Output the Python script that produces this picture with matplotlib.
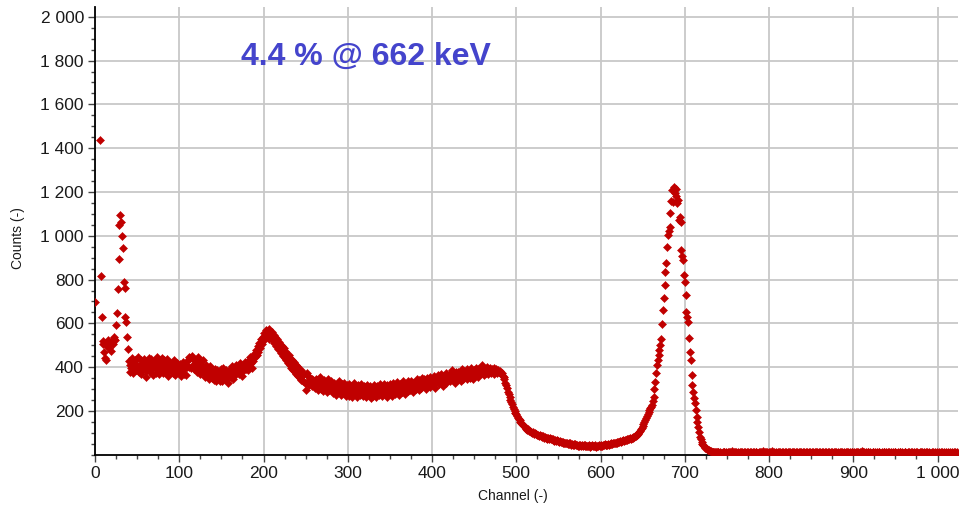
import numpy as np
import matplotlib
matplotlib.use('Agg')
import matplotlib.pyplot as plt
from matplotlib.ticker import MultipleLocator, FuncFormatter

plt.rcParams['font.family'] = ['Liberation Sans', 'DejaVu Sans']

nan = np.nan

# Counts per channel (channels 0..1023)
counts_000 = [
    698, nan, nan, nan, nan, nan, 1437, 816, 631, 520,
    505, 470, 442, 432, 498, 522, 510, 488, 512, 476,
    520, 508, 530, 540, 522, 594, 646, 756, 893, 1049,
    1095, 1064, 1000, 946, 788, 760, 631, 606, 539, 482,
    428, 380, 412, 395, 440, 372, 418, 398, 435, 388,
    410, 445, 376, 402, 432, 368, 420, 392, 438, 405,
    384, 355, 425, 398, 442, 378, 412, 436, 390, 365,
    430, 402, 375, 445, 398, 418, 368, 428, 392, 440,
    405, 372, 432, 415, 380, 438, 398, 362, 425, 410,
    388, 420, 372, 405, 435, 366, 398, 418, 378, 402,
]
counts_100 = [
    382, 415, 360, 398, 425, 370, 392, 410, 365, 400,
    432, 448, 402, 440, 395, 452, 410, 438, 392, 428,
    415, 380, 445, 398, 425, 368, 410, 388, 432, 372,
    398, 355, 412, 372, 395, 348, 405, 368, 385, 352,
    375, 340, 392, 360, 338, 385, 352, 372, 335, 390,
    362, 338, 395, 352, 375, 342, 385, 358, 330, 378,
    392, 355, 405, 372, 348, 398, 365, 412, 378, 388,
    402, 368, 418, 382, 395, 360, 410, 388, 425, 392,
    412, 385, 430, 402, 445, 418, 395, 452, 428, 462,
    448, 478, 455, 495, 470, 510, 488, 528, 505, 540,
]
counts_200 = [
    522, 555, 538, 572, 548, 565, 530, 575, 552, 535,
    560, 525, 548, 510, 540, 498, 530, 485, 515, 478,
    508, 465, 495, 452, 488, 440, 475, 432, 462, 418,
    455, 410, 440, 398, 432, 385, 425, 378, 412, 368,
    405, 362, 392, 350, 385, 342, 375, 335, 368, 328,
    296, 372, 332, 360, 318, 352, 325, 348, 312, 342,
    335, 305, 348, 318, 340, 298, 332, 355, 302, 325,
    318, 290, 342, 305, 332, 285, 322, 345, 298, 315,
    338, 292, 318, 280, 328, 305, 275, 322, 298, 335,
    285, 315, 272, 325, 300, 280, 330, 292, 268, 318,
]
counts_300 = [
    305, 270, 322, 288, 312, 265, 298, 330, 280, 310,
    292, 262, 318, 285, 305, 275, 325, 290, 268, 312,
    282, 308, 265, 320, 295, 272, 315, 260, 305, 288,
    270, 318, 285, 302, 262, 312, 290, 275, 322, 280,
    310, 268, 298, 325, 282, 305, 265, 318, 292, 278,
    322, 285, 305, 270, 328, 295, 278, 315, 288, 332,
    298, 275, 325, 305, 285, 335, 295, 312, 278, 320,
    308, 338, 290, 318, 298, 335, 302, 285, 328, 310,
    330, 302, 345, 315, 295, 340, 318, 305, 350, 322,
    312, 345, 328, 300, 352, 318, 338, 310, 355, 325,
]
counts_400 = [
    345, 318, 358, 330, 305, 352, 338, 365, 322, 348,
    332, 368, 340, 315, 362, 345, 328, 375, 338, 355,
    365, 335, 372, 348, 385, 340, 362, 328, 378, 352,
    342, 380, 355, 368, 335, 390, 360, 345, 382, 358,
    372, 348, 392, 365, 380, 352, 395, 362, 375, 345,
    388, 362, 398, 372, 355, 390, 378, 368, 395, 410,
    380, 398, 365, 392, 375, 400, 368, 388, 382, 395,
    372, 392, 385, 368, 398, 378, 390, 372, 385, 380,
    378, 382, 370, 375, 362, 355, 345, 330, 318, 305,
    288, 278, 265, 252, 240, 232, 220, 210, 200, 192,
]
counts_500 = [
    188, 176, 170, 163, 158, 152, 146, 140, 134, 130,
    126, 121, 118, 114, 116, 109, 111, 104, 106, 100,
    102, 96, 99, 93, 95, 89, 92, 87, 90, 84,
    86, 81, 84, 78, 82, 76, 79, 74, 77, 72,
    75, 70, 73, 67, 71, 65, 68, 63, 66, 61,
    64, 59, 62, 57, 60, 55, 58, 53, 56, 52,
    55, 50, 53, 48, 52, 47, 50, 46, 49, 45,
    48, 44, 47, 42, 46, 41, 45, 40, 44, 41,
    43, 39, 44, 38, 42, 40, 45, 37, 41, 39,
    43, 38, 41, 40, 44, 37, 42, 39, 43, 41,
]
counts_600 = [
    42, 45, 40, 46, 43, 48, 44, 47, 45, 49,
    47, 51, 48, 53, 50, 55, 52, 56, 54, 58,
    56, 60, 58, 63, 60, 65, 62, 67, 64, 69,
    67, 71, 69, 74, 72, 76, 74, 78, 77, 81,
    80, 84, 86, 90, 94, 98, 104, 110, 116, 124,
    132, 140, 150, 160, 168, 176, 186, 196, 205, 212,
    220, 227, 245, 265, 300, 334, 372, 410, 432, 455,
    478, 500, 527, 597, 661, 714, 775, 836, 877, 950,
    1004, 1020, 1042, 1103, 1160, 1209, 1156, 1224, 1194, 1215,
    1180, 1150, 1163, 1072, 1087, 1064, 935, 910, 889, 821,
]
counts_700 = [
    790, 730, 653, 630, 608, 532, 471, 433, 364, 320,
    288, 260, 235, 205, 174, 150, 128, 105, 83, 70,
    58, 50, 45, 38, 33, 29, 26, 24, 22, 20,
    18, 16, 15, 14, 13, 14, 12, 13, 12, 11,
    12, 9, 14, 10, 8, 13, 11, 15, 9, 12,
    10, 14, 8, 11, 13, 9, 16, 10, 12, 8,
    13, 11, 9, 14, 10, 12, 8, 15, 11, 9,
    12, 10, 14, 9, 13, 11, 8, 12, 10, 15,
    9, 13, 11, 8, 12, 14, 10, 9, 13, 11,
    8, 12, 10, 16, 9, 11, 14, 10, 12, 9,
]
counts_800 = [
    11, 14, 9, 12, 17, 10, 13, 8, 12, 10,
    9, 13, 11, 15, 10, 8, 12, 14, 9, 11,
    13, 10, 12, 8, 14, 11, 9, 13, 10, 12,
    15, 9, 11, 13, 8, 12, 10, 14, 11, 9,
    12, 10, 13, 9, 11, 15, 8, 12, 10, 13,
    9, 11, 14, 10, 12, 8, 13, 11, 9, 12,
    10, 14, 9, 12, 11, 8, 13, 10, 15, 9,
    12, 11, 9, 13, 10, 12, 8, 14, 11, 10,
    13, 9, 12, 10, 11, 14, 8, 12, 9, 13,
    10, 12, 11, 9, 14, 10, 12, 8, 11, 13,
]
counts_900 = [
    9, 12, 10, 14, 8, 11, 13, 9, 12, 10,
    16, 11, 9, 12, 10, 13, 8, 11, 14, 9,
    12, 10, 8, 13, 11, 9, 12, 10, 14, 8,
    11, 13, 9, 10, 12, 8, 14, 11, 9, 12,
    10, 13, 8, 11, 9, 12, 10, 15, 9, 11,
    13, 8, 10, 12, 9, 14, 11, 8, 12, 10,
    9, 13, 11, 10, 8, 12, 14, 9, 11, 10,
    12, 8, 13, 10, 9, 11, 15, 10, 8, 12,
    11, 9, 13, 10, 12, 8, 11, 14, 9, 10,
    12, 10, 9, 13, 8, 11, 10, 12, 9, 14,
]
counts_1000 = [
    10, 8, 12, 9, 11, 13, 8, 10, 12, 9,
    14, 10, 8, 11, 9, 12, 10, 13, 8, 11,
    9, 12, 10, 11,
]

x_major_ticks = [0, 100, 200, 300, 400, 500, 600, 700, 800, 900, 1000]
y_major_ticks = [200, 400, 600, 800, 1000, 1200, 1400, 1600, 1800, 2000]
annotation = '4.4 % @ 662 keV'

counts = np.array(counts_000 + counts_100 + counts_200 + counts_300 + counts_400 +
                  counts_500 + counts_600 + counts_700 + counts_800 + counts_900 +
                  counts_1000, dtype=float)
channels = np.arange(len(counts))

fig = plt.figure(figsize=(9.61, 5.08), dpi=100)
ax = fig.add_axes([0.0989, 0.1047, 0.8977, 0.8817])
ax.set_xlim(0, 1024)
ax.set_ylim(0, 2045)

ax.set_xticks(x_major_ticks)
ax.set_yticks(y_major_ticks)
ax.xaxis.set_minor_locator(MultipleLocator(25))
ax.yaxis.set_minor_locator(MultipleLocator(50))
fmt = FuncFormatter(lambda v, p: f"{int(round(v)):,}".replace(',', ' '))
ax.xaxis.set_major_formatter(fmt)
ax.yaxis.set_major_formatter(fmt)

ax.grid(which='major', color='#C8C8C8', linewidth=1.3, zorder=0)
ax.set_axisbelow(True)
for s in ['top', 'right']:
    ax.spines[s].set_visible(False)
for s in ['left', 'bottom']:
    ax.spines[s].set_color('#000000')
    ax.spines[s].set_linewidth(1.3)

ax.tick_params(which='major', direction='out', length=5, width=1, color='#444444',
               labelsize=12.5, labelcolor='#1a1a1a', pad=3)
ax.tick_params(which='minor', direction='out', length=3, width=1, color='#444444')

ax.plot(channels, counts, linestyle='none', marker='D', markersize=4.4,
        markeredgewidth=0.4, color='#C00000', markeredgecolor='#C00000', zorder=3)

ax.text(173, 1815, annotation, color='#4444CC', fontsize=23, fontweight='bold',
        ha='left', va='center', zorder=4)

fig.text(0.019, 0.531, 'Counts (-)', rotation=90, ha='center', va='center',
         fontsize=10, color='#1a1a1a')
fig.text(0.534, 0.037, 'Channel (-)', ha='center', va='top',
         fontsize=10, color='#1a1a1a')

fig.savefig('out.png', dpi=100)
